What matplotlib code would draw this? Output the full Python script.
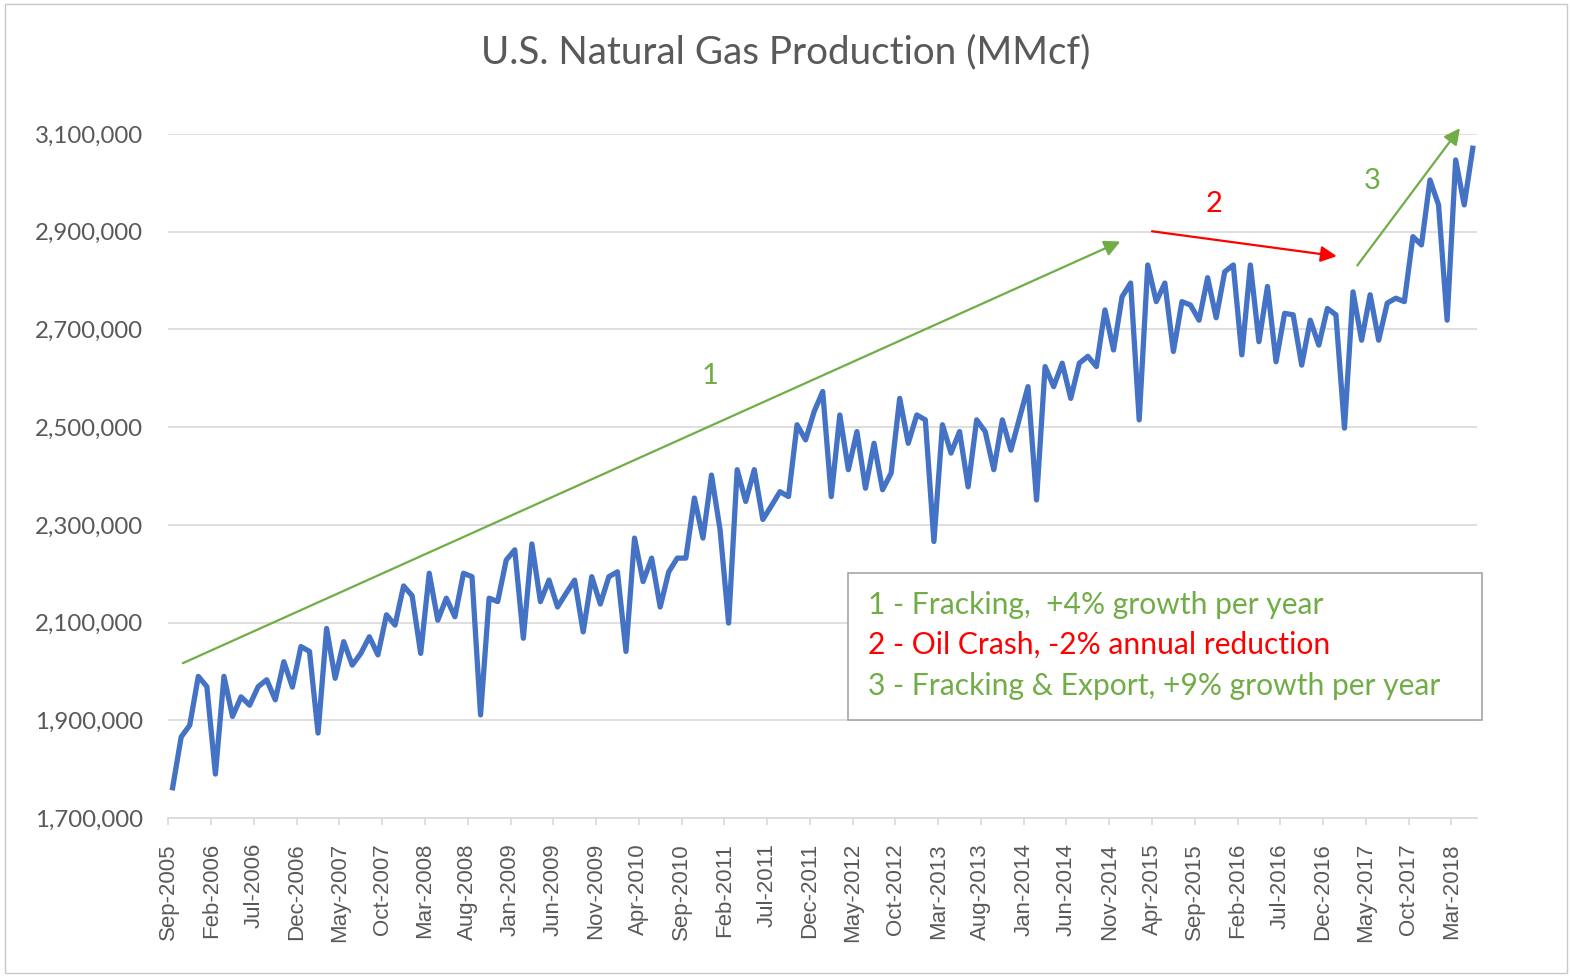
import numpy as np
import pandas as pd
import matplotlib
matplotlib.use("Agg")
import matplotlib.pyplot as plt
from matplotlib.patches import Rectangle

# Monthly U.S. natural gas production, Sep-2005 .. May-2018 (MMcf)
months = pd.date_range("2005-09-01", periods=153, freq="MS")
production = np.array([
    1762, 1866, 1890, 1990, 1969, 1790, 1990, 1908, 1948, 1931,
    1969, 1983, 1942, 2020, 1968, 2051, 2041, 1874, 2088, 1986,
    2061, 2013, 2037, 2071, 2034, 2116, 2095, 2175, 2155, 2037,
    2201, 2105, 2150, 2112, 2201, 2194, 1911, 2150, 2143, 2228,
    2249, 2068, 2261, 2143, 2187, 2132, 2160, 2187, 2081, 2194,
    2138, 2194, 2204, 2041, 2273, 2184, 2232, 2132, 2204, 2232,
    2232, 2355, 2273, 2402, 2290, 2099, 2413, 2348, 2413, 2311,
    2339, 2368, 2358, 2505, 2474, 2532, 2573, 2358, 2525, 2413,
    2491, 2375, 2467, 2372, 2406, 2559, 2467, 2525, 2515, 2266,
    2505, 2447, 2491, 2378, 2515, 2491, 2413, 2515, 2453, 2518,
    2583, 2351, 2624, 2583, 2631, 2559, 2631, 2645, 2624, 2740,
    2658, 2767, 2795, 2515, 2832, 2757, 2795, 2655, 2757, 2750,
    2719, 2806, 2724, 2818, 2832, 2648, 2832, 2675, 2788, 2634,
    2733, 2730, 2627, 2719, 2668, 2743, 2730, 2498, 2777, 2678,
    2771, 2678, 2754, 2764, 2757, 2890, 2873, 3006, 2955, 2719,
    3047, 2955, 3071,
]) * 1000

# trend arrows: (start month index, start value, end month index, end value)
trend_arrows = [
    (1.2, 2017000, 110.8, 2880000),
    (114.5, 2901000, 136.1, 2850000),
    (138.5, 2831000, 150.5, 3112000),
]
trend_labels = ["1", "2", "3"]
trend_label_pos = [(62.8, 2604000), (121.8, 2956000), (140.2, 3003000)]
trend_colors = ["#70AD47", "#FF0000", "#70AD47"]
notes = [
    "1 - Fracking,  +4% growth per year",
    "2 - Oil Crash, -2% annual reduction",
    "3 - Fracking & Export, +9% growth per year",
]

grey_text = "#595959"
grid_grey = "#D9D9D9"

fig = plt.figure(figsize=(15.72, 9.77), dpi=100)
ax = fig.add_axes([0.1071, 0.1627, 0.8325, 0.7001])

x = np.arange(len(production))
ax.plot(x, production, color="#4472C4", lw=3.8, solid_joinstyle="round")

ax.set_ylim(1700000, 3100000)
ax.set_xlim(-0.5, len(production) - 0.5)
yt = np.arange(1700000, 3100001, 200000)
ax.set_yticks(yt)
ax.set_yticklabels([f"{v:,}" for v in yt], family="Lato", fontsize=17.3, color=grey_text)
ax.yaxis.grid(True, color=grid_grey, lw=1.2)
ax.set_axisbelow(True)

tick_idx = np.arange(0, len(production), 5)
ax.set_xticks(tick_idx - 0.5)
ax.set_xticklabels([months[i].strftime("%b-%Y") for i in tick_idx], rotation=90,
                   family="Liberation Sans", fontsize=16, color=grey_text)

ax.tick_params(axis="y", length=0, pad=18)
ax.tick_params(axis="x", length=5, color=grid_grey, width=1.2, pad=13)
for side in ["top", "right", "left"]:
    ax.spines[side].set_visible(False)
ax.spines["bottom"].set_color(grid_grey)
ax.spines["bottom"].set_linewidth(1.2)

for (x0, y0, x1, y1), c in zip(trend_arrows, trend_colors):
    ax.annotate("", xy=(x1, y1), xytext=(x0, y0), annotation_clip=False,
                arrowprops=dict(arrowstyle="-|>", color=c, lw=1.6, mutation_scale=24,
                                shrinkA=0, shrinkB=0))
for lab, (lx, ly), c in zip(trend_labels, trend_label_pos, trend_colors):
    ax.text(lx, ly, lab, color=c, family="Lato", fontsize=21, ha="center", va="center")

fig.text(0.5, 0.946, "U.S. Natural Gas Production (MMcf)", ha="center", va="center",
         family="Lato", fontsize=27.8, color=grey_text)

# notes box
fig.add_artist(Rectangle((0.5394, 0.2630), 0.4033, 0.1505, transform=fig.transFigure,
                         facecolor="white", edgecolor="#A6A6A6", lw=1.2, zorder=5))
for note, c, yy in zip(notes, trend_colors, [0.3808, 0.3398, 0.2978]):
    fig.text(0.5522, yy, note, color=c, family="Lato", fontsize=21.6, va="center", zorder=6)

# chart frame
fig.add_artist(Rectangle((0.003, 0.004), 0.994, 0.992, transform=fig.transFigure,
                         fill=False, edgecolor="#C8C8C8", lw=1))

fig.savefig("out.png", dpi=100)
